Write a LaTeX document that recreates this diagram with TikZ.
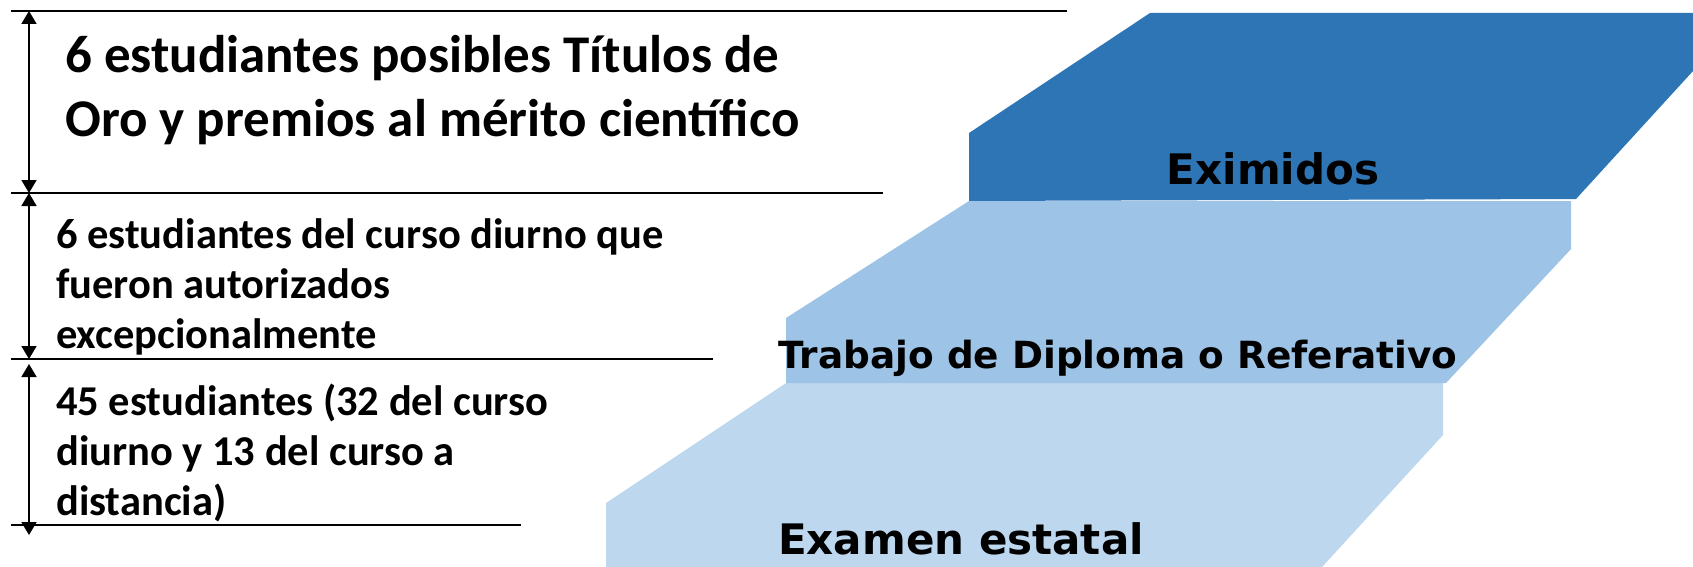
\documentclass[tikz,border=0pt]{standalone}
\usepackage{fontspec}
\setmainfont{Carlito}
\newfontfamily\stepfont{DejaVu Sans}
\usetikzlibrary{arrows.meta,positioning}

\definecolor{stepdark}{HTML}{2E75B6}
\definecolor{stepmid}{HTML}{9DC3E6}
\definecolor{steplight}{HTML}{BDD7EE}

\tikzset{
  level/.style={draw=black, line width=1.8pt},
  span/.style={
    {Triangle[length=13pt,width=15pt]}-{Triangle[length=13pt,width=15pt]},
    line width=1.8pt},
  bigtext/.style={anchor=base west, inner sep=0pt, align=left,
    font=\bfseries\fontsize{53}{63}\selectfont},
  smalltext/.style={anchor=base west, inner sep=0pt, align=left,
    font=\bfseries\fontsize{42.5}{50}\selectfont},
  steplabel/.style={inner sep=0pt, anchor=base,
    font=\stepfont\bfseries\fontsize{42}{42}\selectfont}
}

\begin{document}
\begin{tikzpicture}[x=1pt,y=-1pt]
\useasboundingbox (0,0) rectangle (1693,567);

% steps
\fill[steplight] (606,567) -- (606,503) -- (786,383) -- (1443,383)
  -- (1443,435) -- (1322,567) -- cycle;
\fill[stepmid] (786,383) -- (786,318) -- (969,201) -- (1571,201)
  -- (1571,249) -- (1446,383) -- cycle;
\fill[stepdark] (969,201) -- (969,133) -- (1150,13) -- (1693,13)
  -- (1693,71) -- (1576,199) -- cycle;

\node[steplabel] (exi) at (1273,184) {Eximidos};
\node[steplabel, font=\stepfont\bfseries\fontsize{37.4}{40}\selectfont]
  (tdr) at (1118,368) {Trabajo de Diploma o Referativo};
\node[steplabel] (exa) at (961,554) {Examen estatal};

% levels
\coordinate (l1) at (11,11);
\coordinate (l2) at (11,193);
\coordinate (l3) at (11,359);
\coordinate (l4) at (11,525);
\draw[level] (l1) -- ++(1056,0);
\draw[level] (l2) -- ++(872,0);
\draw[level] (l3) -- ++(702,0);
\draw[level] (l4) -- ++(510,0);

\coordinate (a1) at (29,11);
\coordinate (b1) at (29,193);
\coordinate (a2) at (29,193);
\coordinate (b2) at (29,359);
\coordinate (a3) at (29,364);
\coordinate (b3) at (29,535);
\draw[span] (a1) -- (b1);
\draw[span] (a2) -- (b2);
\draw[span] (a3) -- (b3);

% last baselines
\node[bigtext] (oro) at (65,136)
  {6 estudiantes posibles Títulos de\\Oro y premios al mérito científico};
\node[smalltext] (exc) at (56,348)
  {6 estudiantes del curso diurno que\\fueron autorizados\\excepcionalmente};
\node[smalltext] (est) at (56,515)
  {45 estudiantes (32 del curso\\diurno y 13 del curso a\\distancia)};
\end{tikzpicture}
\end{document}
